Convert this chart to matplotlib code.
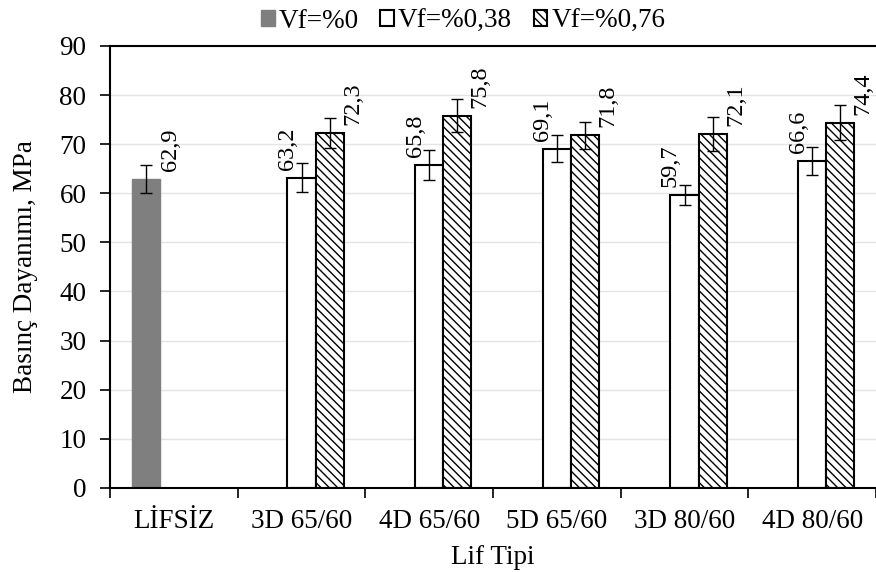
import numpy as np
import matplotlib
matplotlib.use("Agg")
import matplotlib.pyplot as plt
from matplotlib.ticker import MultipleLocator, FixedLocator

plt.rcParams['font.family'] = ['Liberation Serif', 'DejaVu Serif']
plt.rcParams['hatch.linewidth'] = 1.0

# data
categories = ["LİFSİZ", "3D 65/60", "4D 65/60", "5D 65/60", "3D 80/60", "4D 80/60"]
series_names = ["Vf=%0", "Vf=%0,38", "Vf=%0,76"]
vf0 = [62.9, None, None, None, None, None]
vf038 = [None, 63.2, 65.8, 69.1, 59.7, 66.6]
vf076 = [None, 72.3, 75.8, 71.8, 72.1, 74.4]
err0 = [2.8, None, None, None, None, None]
err038 = [None, 2.9, 3.1, 2.8, 2.0, 2.8]
err076 = [None, 3.0, 3.4, 2.8, 3.5, 3.6]

FS = 19.5      # axis text
FS_VAL = 17.5  # value labels


def fmt(v):
    return f"{v:.1f}".replace(".", ",")


fig = plt.figure(figsize=(8.76, 5.72), dpi=100)
ax = fig.add_axes([0.1256, 0.147, 0.8744, 0.7727])

x = np.arange(len(categories))
w = 0.22
styles = [
    dict(color="#7f7f7f", edgecolor="#7f7f7f", linewidth=1.0),
    dict(color="white", edgecolor="black", linewidth=1.5),
    dict(color="white", edgecolor="black", linewidth=1.5, hatch="\\\\\\\\"),
]
label_dx = [0.19, -0.11, 0.18]

for k, (vals, errs) in enumerate([(vf0, err0), (vf038, err038), (vf076, err076)]):
    idx = [i for i, v in enumerate(vals) if v is not None]
    xs = x[idx] + (k - 1) * w
    vs = [vals[i] for i in idx]
    es = [errs[i] for i in idx]
    ax.bar(xs, vs, w, label=series_names[k], zorder=2, **styles[k])
    ax.errorbar(xs, vs, yerr=es, fmt="none", ecolor="black", elinewidth=1.0,
                capsize=4.5, capthick=1.0, zorder=3)
    for xi, v in zip(xs, vs):
        ax.text(xi + label_dx[k], v + 1.6, fmt(v), rotation=90, ha="center",
                va="bottom", fontsize=FS_VAL, zorder=4)

ax.set_xlim(-0.5, len(categories) - 0.5)
ax.set_ylim(0, 90)
ax.yaxis.set_major_locator(MultipleLocator(10))
ax.set_xticks(x)
ax.set_xticklabels(categories, fontsize=FS)
ax.xaxis.set_minor_locator(FixedLocator(np.arange(-0.5, len(categories), 1.0)))
ax.tick_params(axis="x", which="major", length=0, pad=15)
ax.tick_params(axis="x", which="minor", length=7, width=1.2, direction="out")
ax.tick_params(axis="y", length=7, width=1.2, direction="out", labelsize=FS, pad=10)

ax.grid(axis="y", color="#e4e4e4", linewidth=1.0, zorder=0)
ax.set_axisbelow(True)
for s in ["left", "bottom", "top"]:
    ax.spines[s].set_linewidth(1.5)
ax.spines["right"].set_visible(False)

ax.set_ylabel("Basınç Dayanımı, MPa", fontsize=FS, labelpad=15)
ax.set_xlabel("Lif Tipi", fontsize=FS, labelpad=8)

ax.legend(loc="lower center", bbox_to_anchor=(0.461, 1.0), ncol=3, frameon=False,
          fontsize=FS, handlelength=0.5, handleheight=0.5, handletextpad=0.15,
          columnspacing=0.8, borderaxespad=0.05)

fig.savefig("out.png", dpi=100)
